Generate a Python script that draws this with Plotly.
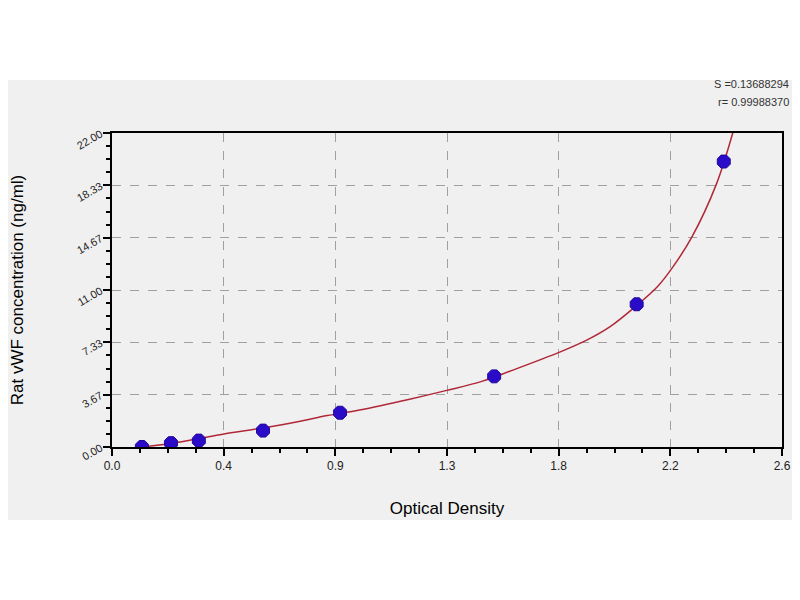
import plotly.graph_objects as go

# standards
od = [0.116, 0.229, 0.337, 0.586, 0.885, 1.483, 2.036, 2.374]
conc = [0.0, 0.27, 0.45, 1.15, 2.4, 4.95, 10.0, 20.0]

# fitted curve
fit_od = [0.115, 0.23, 0.34, 0.43, 0.59, 0.72, 0.835, 0.96, 1.155, 1.295, 1.435,
          1.55, 1.742, 1.844, 1.933, 2.035, 2.12, 2.176, 2.25, 2.345, 2.412]
fit_conc = [0.0, 0.25, 0.6, 0.9, 1.35, 1.77, 2.2, 2.59, 3.35, 3.95, 4.6,
            5.35, 6.68, 7.5, 8.43, 9.9, 11.3, 12.6, 14.7, 18.4, 22.2]

x_ticks = [0, 2.6 / 6, 2 * 2.6 / 6, 1.3, 4 * 2.6 / 6, 5 * 2.6 / 6, 2.6]
x_labels = ['0.0', '0.4', '0.9', '1.3', '1.8', '2.2', '2.6']
y_ticks = [0, 22 / 6, 2 * 22 / 6, 11, 4 * 22 / 6, 5 * 22 / 6, 22]
y_labels = ['0.00', '3.67', '7.33', '11.00', '14.67', '18.33', '22.00']

fit_s = 'S =0.13688294'
fit_r = 'r= 0.99988370'

fig = go.Figure()

fig.add_trace(go.Scatter(x = fit_od, y = fit_conc,
                         mode = 'lines',
                         line = dict(color = '#b02838', width = 1.5, shape = 'spline', smoothing = 1.0),
                         showlegend = False))
fig.add_trace(go.Scatter(x = od, y = conc,
                         mode = 'markers',
                         marker = dict(symbol = 'octagon', size = 14, color = '#2a0cc8',
                                       line = dict(color = '#22089a', width = 1)),
                         showlegend = False))

# grey panel behind the chart
fig.add_shape(type = 'rect', xref = 'paper', yref = 'paper',
              x0 = -0.2, x1 = 1.1, y0 = -0.2325, y1 = 1.1688,
              fillcolor = '#f0f0f0', line = dict(width = 0), layer = 'below')

fig.add_annotation(text = fit_s, xref = 'paper', yref = 'paper', x = 1.014, y = 1.155,
                   xanchor = 'right', yanchor = 'middle', showarrow = False,
                   font = dict(size = 11, color = '#333333'))
fig.add_annotation(text = fit_r, xref = 'paper', yref = 'paper', x = 1.014, y = 1.1,
                   xanchor = 'right', yanchor = 'middle', showarrow = False,
                   font = dict(size = 11, color = '#333333'))

# page body has an 8px margin; keep the figure inside the window so no scrollbar shows
fig.update_layout(
    autosize = False,
    width = 784,
    height = 580,
    margin = dict(l = 104, r = 10, t = 125, b = 141),
    paper_bgcolor = 'white',
    plot_bgcolor = 'white',
    font = dict(family = 'Liberation Sans, Arial', size = 11, color = 'black'))

fig.update_xaxes(range = [0, 2.6], tickmode = 'array', tickvals = x_ticks, ticktext = x_labels,
                 showline = True, linewidth = 2, linecolor = 'black', mirror = True,
                 ticks = 'outside', ticklen = 7, tickwidth = 1.5, tickcolor = 'black',
                 minor = dict(dtick = 2.6 / 24, tick0 = 0, ticks = 'outside', ticklen = 4,
                              tickwidth = 1.5, tickcolor = 'black', showgrid = False),
                 showgrid = True, gridcolor = '#a0a0a0', griddash = 'dash', gridwidth = 1,
                 zeroline = False, automargin = False, ticklabeloverflow = 'allow',
                 tickfont = dict(size = 12, color = '#222222'),
                 title = dict(text = 'Optical Density', font = dict(size = 17), standoff = 30))
fig.update_yaxes(range = [0, 22], tickmode = 'array', tickvals = y_ticks, ticktext = y_labels,
                 showline = True, linewidth = 2, linecolor = 'black', mirror = True,
                 ticks = 'outside', ticklen = 7, tickwidth = 1.5, tickcolor = 'black',
                 minor = dict(dtick = 22 / 24, tick0 = 0, ticks = 'outside', ticklen = 4,
                              tickwidth = 1.5, tickcolor = 'black', showgrid = False),
                 showgrid = True, gridcolor = '#a0a0a0', griddash = 'dash', gridwidth = 1,
                 zeroline = False, automargin = False, tickangle = -30,
                 tickfont = dict(size = 11, color = '#222222'),
                 title = dict(text = 'Rat vWF concentration (ng/ml)', font = dict(size = 17),
                              standoff = 50))

fig.write_html("out.html")
